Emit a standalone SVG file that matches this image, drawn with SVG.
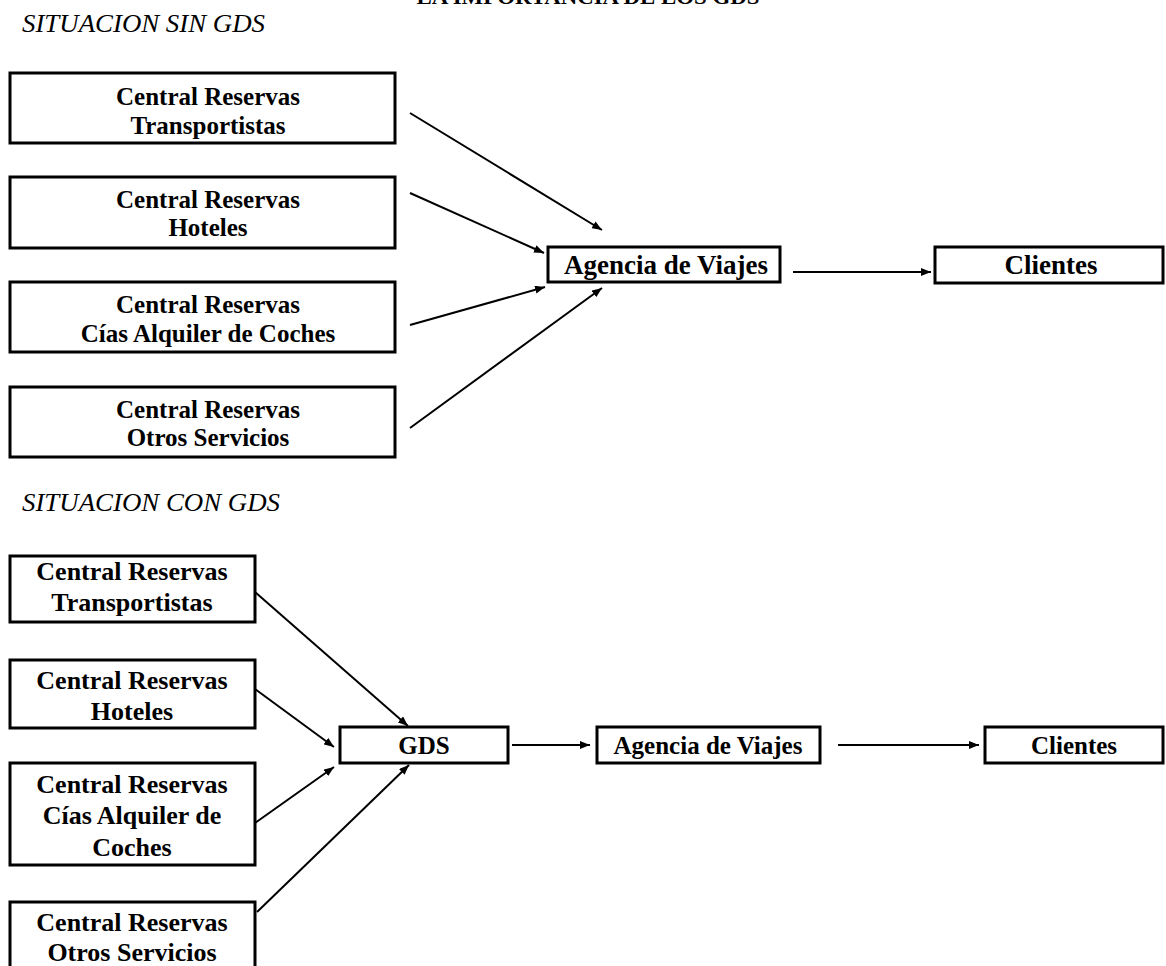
<svg xmlns="http://www.w3.org/2000/svg" width="1166" height="966" viewBox="0 0 1166 966">
<defs>
<style>
.box{fill:#fff;stroke:#000;stroke-width:3}
.t{font-family:"Liberation Serif","Times New Roman",serif;font-weight:bold;font-size:25px;fill:#000;text-anchor:middle}
.s{font-size:26px}
.b{font-size:27px}
.h{font-family:"Liberation Serif","Times New Roman",serif;font-style:italic;font-size:26px;fill:#000}
.c{stroke:#000;stroke-width:2;fill:none;marker-end:url(#ah)}
</style>
<marker id="ah" viewBox="0 0 10 8" refX="10" refY="4" markerWidth="10" markerHeight="8" markerUnits="userSpaceOnUse" orient="auto">
<path d="M0,0 L10,4 L0,8 Z" fill="#000"/>
</marker>
</defs>
<rect width="1166" height="966" fill="#fff"/>
<text x="588" y="4" class="t" style="font-size:22px" textLength="343" lengthAdjust="spacingAndGlyphs">LA IMPORTANCIA DE LOS GDS</text>
<text x="22" y="32" class="h" textLength="243" lengthAdjust="spacingAndGlyphs">SITUACION SIN GDS</text>
<text x="22" y="511" class="h" textLength="258" lengthAdjust="spacingAndGlyphs">SITUACION CON GDS</text>

<g id="connectors">
<line class="c" x1="410" y1="113" x2="602" y2="230"/>
<line class="c" x1="410" y1="193" x2="544" y2="253"/>
<line class="c" x1="410" y1="325" x2="545" y2="287"/>
<line class="c" x1="410" y1="428" x2="602" y2="288"/>
<line class="c" x1="793" y1="272" x2="931" y2="272"/>
<line class="c" x1="255" y1="592" x2="408" y2="726"/>
<line class="c" x1="255" y1="689" x2="334" y2="747"/>
<line class="c" x1="255" y1="823" x2="334" y2="767"/>
<line class="c" x1="257" y1="912" x2="409" y2="765"/>
<line class="c" x1="512" y1="745" x2="590" y2="745"/>
<line class="c" x1="838" y1="745" x2="979" y2="745"/>
</g>

<g id="n1"><rect class="box" x="10" y="73" width="385" height="70"/><text class="t" x="208" y="105">Central Reservas</text><text class="t" x="208" y="134">Transportistas</text></g>
<g id="n2"><rect class="box" x="10" y="177" width="385" height="71"/><text class="t" x="208" y="208">Central Reservas</text><text class="t" x="208" y="236">Hoteles</text></g>
<g id="n3"><rect class="box" x="10" y="282" width="385" height="70"/><text class="t" x="208" y="313">Central Reservas</text><text class="t" x="208" y="342">Cías Alquiler de Coches</text></g>
<g id="n4"><rect class="box" x="10" y="387" width="385" height="70"/><text class="t" x="208" y="418">Central Reservas</text><text class="t" x="208" y="446">Otros Servicios</text></g>
<g id="n5"><rect class="box" x="548" y="247" width="232" height="35"/><text class="t b" x="666" y="274">Agencia de Viajes</text></g>
<g id="n6"><rect class="box" x="935" y="247" width="228" height="36"/><text class="t b" x="1051" y="274">Clientes</text></g>

<g id="m1"><rect class="box" x="10" y="556" width="245" height="66"/><text class="t s" x="132" y="580">Central Reservas</text><text class="t s" x="132" y="611">Transportistas</text></g>
<g id="m2"><rect class="box" x="10" y="660" width="245" height="68"/><text class="t s" x="132" y="689">Central Reservas</text><text class="t s" x="132" y="720">Hoteles</text></g>
<g id="m3"><rect class="box" x="10" y="763" width="245" height="102"/><text class="t s" x="132" y="793">Central Reservas</text><text class="t s" x="132" y="824">Cías Alquiler de</text><text class="t s" x="132" y="856">Coches</text></g>
<g id="m4"><rect class="box" x="10" y="902" width="245" height="80"/><text class="t s" x="132" y="931">Central Reservas</text><text class="t s" x="132" y="961">Otros Servicios</text></g>
<g id="m5"><rect class="box" x="340" y="727" width="168" height="36"/><text class="t" x="424" y="754">GDS</text></g>
<g id="m6"><rect class="box" x="597" y="727" width="223" height="36"/><text class="t" x="708" y="754">Agencia de Viajes</text></g>
<g id="m7"><rect class="box" x="985" y="727" width="178" height="36"/><text class="t" x="1074" y="754">Clientes</text></g>
</svg>
